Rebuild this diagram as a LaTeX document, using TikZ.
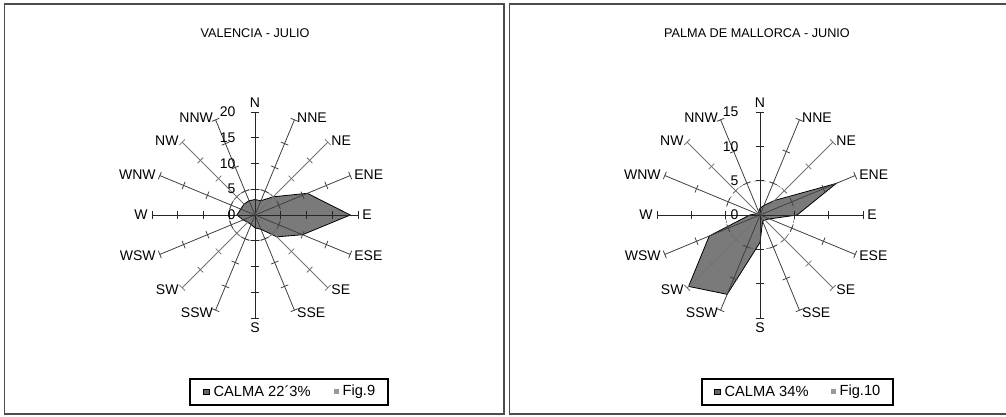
\documentclass[tikz,border=0pt]{standalone}
\usepackage{fontspec}
\setmainfont{Liberation Sans}

\begin{document}
\begin{tikzpicture}[x=0.75pt,y=0.75pt]
	\tikzstyle{every node}+=[inner sep=1pt, text=black, font=\fontsize{10.5}{12}\selectfont]
	\tikzstyle{panel}=[draw=black!70, line width=1.1pt]
	\tikzstyle{spoke}=[draw=black!80, line width=0.6pt]
	\tikzstyle{rose}=[fill=black!52, draw=black, line width=0.6pt]
	\tikzstyle{legendbox}=[draw=black, line width=0.8pt]
	\tikzstyle{legendtext}=[anchor=west, font=\fontsize{11}{13}\selectfont]
	\useasboundingbox (0,0) rectangle (1006,417);
	% frames
	\draw [panel] (4.5,3) rectangle (504,413);
	\draw [panel] (509.5,3) rectangle (1009,413);
	\node (t1) [font=\fontsize{9.5}{11}\selectfont] at (255,384) {VALENCIA - JULIO};
	\node (t2) [font=\fontsize{9.5}{11}\selectfont] at (757,384) {PALMA DE MALLORCA - JUNIO};
	% Valencia, 20 = 103px
	\begin{scope}[shift={(255,202)}, x=3.8625pt, y=3.8625pt]
	\draw [rose] (90:3) -- (67.5:3) -- (45:5) -- (22.5:11) -- (0:18.5) -- (-22.5:10) -- (-45:6) -- (-67.5:3)
		-- (-90:2.5) -- (-112.5:2) -- (-135:2) -- (-157.5:2.5) -- (180:3.5) -- (157.5:3) -- (135:3) -- (112.5:3) -- cycle;
	\draw [black!60] (0,0) circle (5);
	\foreach \a/\t/\c/\p in {90/N/85/south,67.5/NNE/75/west,45/NE/55/west,22.5/ENE/75/west,0/E/85/west,
		-22.5/ESE/75/west,-45/SE/55/west,-67.5/SSE/75/west,-90/S/85/north,-112.5/SSW/75/east,-135/SW/55/east,
		-157.5/WSW/75/east,180/W/85/east,157.5/WNW/75/east,135/NW/55/east,112.5/NNW/75/east} {
		\draw [spoke, black!\c] (0,0) -- (\a:20) node (v\t) [anchor=\p, shift={(\a:2pt)}] {\t};
		\foreach \r in {5,10,15,20}
			\draw [spoke, black!\c] (\a:\r) ++(\a+90:3pt) -- ++(\a-90:6pt);
	}
	\foreach \r in {0,5,10,15,20}
		\node (v\r) [anchor=east] at ([xshift=-13.5pt]90:\r) {\r};
	\end{scope}
	% Palma, 15 = 103px
	\begin{scope}[shift={(760,202)}, x=5.1525pt, y=5.1525pt]
	\draw [rose] (90:1) -- (67.5:1.5) -- (45:3) -- (22.5:12) -- (0:5.4) -- (-22.5:1.5) -- (-45:1) -- (-67.5:1)
		-- (-90:4) -- (-112.5:12.5) -- (-135:14.7) -- (-157.5:8) -- (180:1.5) -- (157.5:0.5) -- (135:0.5) -- (112.5:0.5) -- cycle;
	\draw [black!60, dashed] (0,0) circle (5);
	\foreach \a/\t/\c/\p in {90/N/85/south,67.5/NNE/75/west,45/NE/55/west,22.5/ENE/75/west,0/E/85/west,
		-22.5/ESE/75/west,-45/SE/55/west,-67.5/SSE/75/west,-90/S/85/north,-112.5/SSW/75/east,-135/SW/55/east,
		-157.5/WSW/75/east,180/W/85/east,157.5/WNW/75/east,135/NW/55/east,112.5/NNW/75/east} {
		\draw [spoke, black!\c] (0,0) -- (\a:15) node (w\t) [anchor=\p, shift={(\a:2pt)}] {\t};
		\foreach \r in {5,10,15}
			\draw [spoke, black!\c] (\a:\r) ++(\a+90:3pt) -- ++(\a-90:6pt);
	}
	\foreach \r in {0,5,10,15}
		\node (w\r) [anchor=east] at ([xshift=-15pt]90:\r) {\r};
	\end{scope}
	% legends
	\draw [legendbox] (190,12) rectangle (388,38);
	\fill [black!60, draw=black] (203,23) rectangle (209,28);
	\node (c1) [legendtext] at (212,25.5) {CALMA 22´3\%};
	\fill [black!40] (334,23) rectangle (339,28);
	\node (f1) [legendtext] at (341,25.5) {Fig.9};
	\draw [legendbox] (702,12) rectangle (893,38);
	\fill [black!60, draw=black] (714,23) rectangle (720,28);
	\node (c2) [legendtext] at (723,25.5) {CALMA 34\%};
	\fill [black!40] (831,23) rectangle (836,28);
	\node (f2) [legendtext] at (838,25.5) {Fig.10};
\end{tikzpicture}
\end{document}
